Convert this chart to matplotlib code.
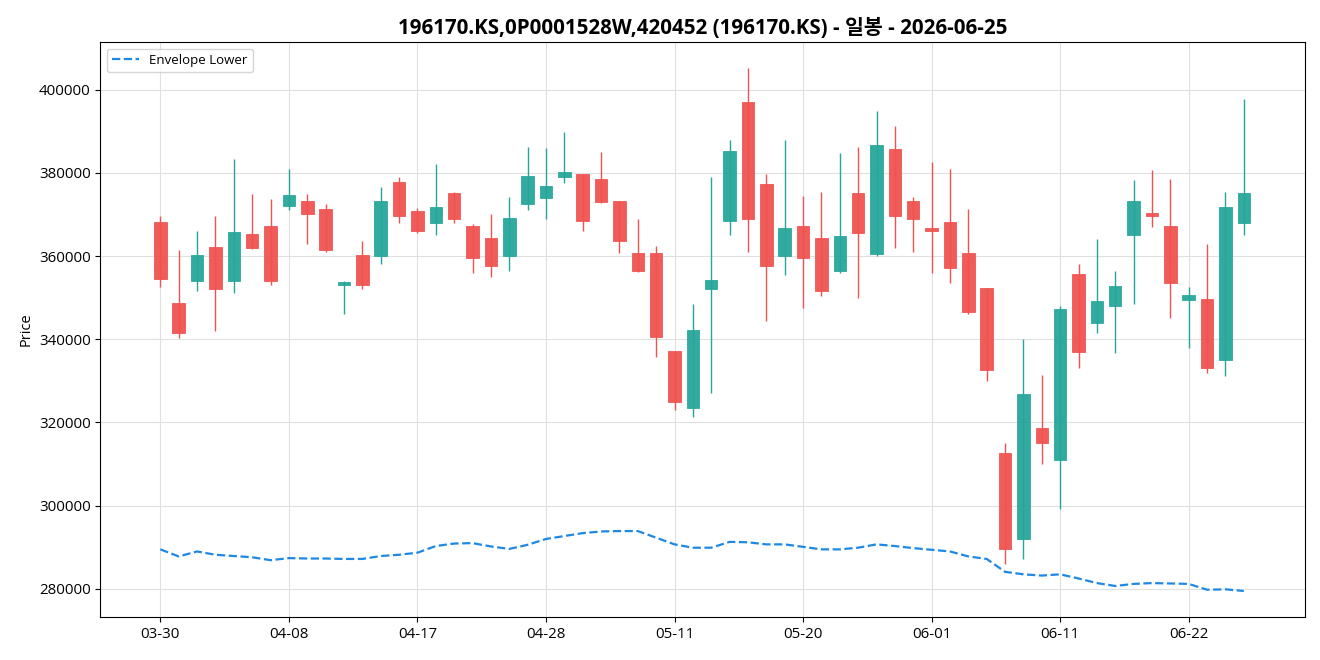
import numpy as np
import pandas as pd
import matplotlib
matplotlib.use('Agg')
import matplotlib.pyplot as plt

plt.rcParams['font.family'] = ['Open Sans', 'Noto Sans CJK KR', 'DejaVu Sans']

# trading days (KRX holidays dropped)
holidays = ['2026-05-01', '2026-05-05', '2026-05-25', '2026-06-03']
dates = pd.bdate_range('2026-03-30', '2026-06-25')
dates = dates[~dates.isin(pd.to_datetime(holidays))]

opens = [368200, 348700, 354000, 362200, 354000, 365300, 367200, 372100, 373300, 371300,
         353100, 360300, 360000, 377800, 370900, 368000, 375200, 367200, 364300, 360000,
         372500, 374000, 379000, 379800, 378400, 373300, 360700, 360700, 337200, 323500,
         352100, 368400, 396900, 377400, 360000, 367200, 364300, 356400, 375200, 360500,
         385800, 373300, 366800, 368200, 360700, 352300, 312600, 292000, 318700, 311000,
         355700, 343900, 348000, 365100, 370400, 367200, 349400, 349700, 335100, 368000]
highs = [369700, 361500, 366100, 369700, 383200, 375000, 373800, 381000, 375000, 372500,
         354100, 363700, 376700, 379100, 371600, 382200, 375500, 367600, 370200, 374100,
         386100, 385900, 389700, 379800, 385100, 373300, 369000, 362500, 337200, 348500,
         379100, 388000, 405100, 379600, 388000, 374500, 375500, 384700, 386100, 394800,
         391200, 374100, 382700, 381000, 371200, 352300, 315000, 340000, 331400, 348100,
         358200, 364100, 356500, 378200, 380600, 378600, 352600, 363000, 375500, 397700]
lows = [352500, 340400, 351500, 341900, 351000, 361700, 353000, 371000, 362800, 360900,
        346000, 352000, 358000, 367900, 365500, 365000, 367900, 355800, 354900, 356300,
        371000, 368800, 377500, 366000, 372800, 360800, 356200, 335800, 322900, 321400,
        327000, 365100, 360900, 344300, 355400, 347400, 350300, 355800, 349800, 359900,
        361900, 360900, 355800, 353400, 346000, 329900, 285900, 287300, 309900, 299300,
        333000, 341500, 336800, 348400, 366900, 345000, 337900, 332000, 331200, 365100]
closes = [354500, 341500, 360300, 352100, 365800, 361900, 354000, 374700, 370100, 361500,
          353800, 353000, 373300, 369600, 366000, 371900, 368900, 359500, 357600, 369200,
          379300, 376900, 380300, 368400, 373000, 363600, 356400, 340500, 324900, 342200,
          354200, 385300, 368900, 357600, 366800, 359500, 351600, 364800, 365600, 386700,
          369600, 368900, 366100, 357100, 346500, 332600, 289500, 326800, 315000, 347300,
          336900, 349200, 352800, 373300, 369600, 353500, 350600, 333100, 371800, 375200]
env_lower = [289500, 287800, 289000, 288200, 287900, 287600, 286900, 287400, 287300, 287300,
             287200, 287200, 287900, 288200, 288700, 290300, 290900, 291000, 290200, 289600,
             290600, 292000, 292700, 293400, 293800, 293900, 293900, 292300, 290700, 289900,
             289900, 291300, 291200, 290700, 290700, 290100, 289500, 289500, 289900, 290700,
             290300, 289800, 289400, 289000, 287800, 287200, 284100, 283500, 283200, 283500,
             282500, 281400, 280700, 281200, 281400, 281300, 281200, 279800, 279900, 279500]

up_color = '#26a69a'
down_color = '#ef5350'

x = np.arange(len(dates))
o = np.array(opens); h = np.array(highs); l = np.array(lows); c = np.array(closes)
colors = np.where(c >= o, up_color, down_color)

fig, ax = plt.subplots(figsize=(13.2, 6.6), dpi=100)

ax.vlines(x, l, h, colors=colors, linewidth=1, zorder=2)
ax.bar(x, np.abs(c - o), bottom=np.minimum(o, c), width=0.68, color=colors,
       edgecolor=colors, linewidth=0.6, alpha=0.95, zorder=3)

ax.plot(x, env_lower, color='#1e88e5', linestyle='--', linewidth=1.6,
        label='Envelope Lower', zorder=4)

ax.set_xlim(-3.27, 62.36)
tick_idx = x[::7]
ax.set_xticks(tick_idx)
ax.set_xticklabels([dates[i].strftime('%m-%d') for i in tick_idx])
ax.tick_params(labelsize=10.8)
ax.grid(True, color='#e0e0e0', linewidth=0.8)
ax.set_axisbelow(True)
ax.set_ylabel('Price', fontsize=10.5)
ax.set_title('196170.KS,0P0001528W,420452 (196170.KS) - 일봉 - 2026-06-25',
             fontsize=14.8, fontweight='bold')
ax.legend(loc='upper left', fontsize=9.5)

plt.subplots_adjust(left=0.076, right=0.989, top=0.936, bottom=0.065)
plt.savefig('out.png')
